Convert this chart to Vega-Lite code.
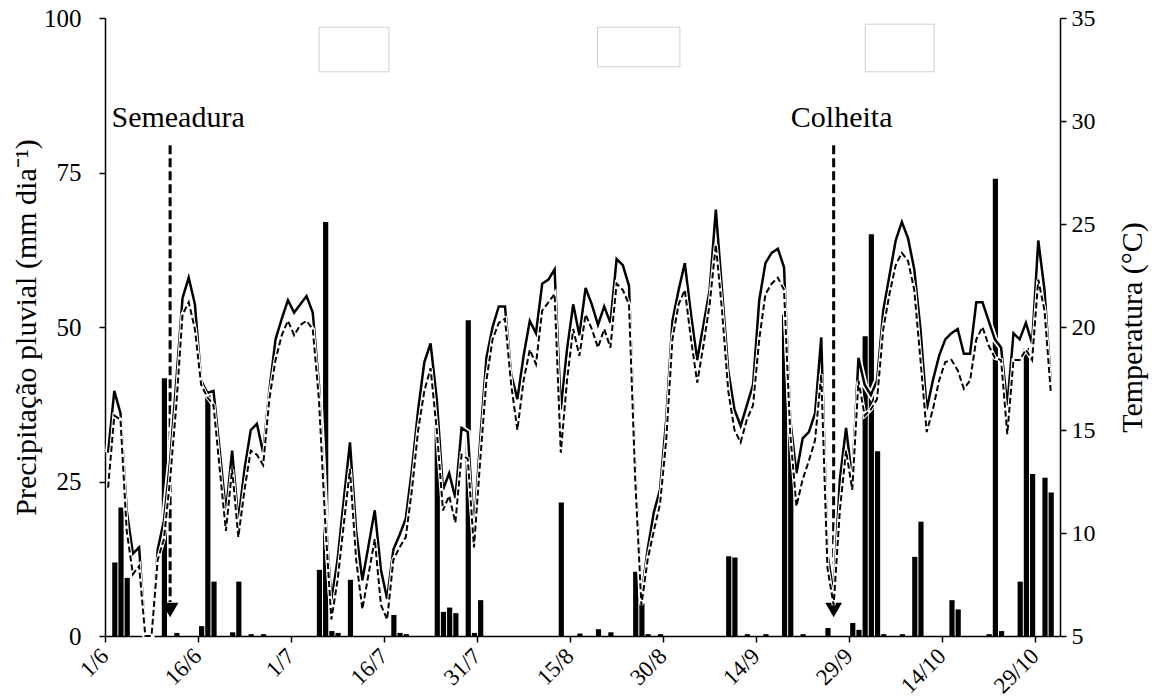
{
  "$schema": "https://vega.github.io/schema/vega-lite/v6.json",
  "width": 955,
  "height": 618,
  "autosize": "none",
  "padding": {"left": 105, "top": 18, "right": 93, "bottom": 64},
  "background": "white",
  "config": {
    "font": "Liberation Serif",
    "view": {"stroke": null},
    "axis": {"grid": false, "domainColor": "black", "domainWidth": 1.5, "tickColor": "black", "tickWidth": 1.5, "labelColor": "black", "titleColor": "black", "labelFont": "Liberation Serif", "titleFont": "Liberation Serif", "titleFontWeight": "normal"}
  },
  "datasets": {
    "caixas": [
      {"x1": "2020-07-05T12:00Z", "x2": "2020-07-16T19:00Z", "y1": 91.3, "y2": 98.5},
      {"x1": "2020-08-19T10:00Z", "x2": "2020-09-01T17:00Z", "y1": 92.1, "y2": 98.5},
      {"x1": "2020-10-01T14:00Z", "x2": "2020-10-12T17:00Z", "y1": 91.3, "y2": 99.0}
    ],
    "rotulos": [
      {"date": "2020-06-01", "rotulo": "1/6"},
      {"date": "2020-06-16", "rotulo": "16/6"},
      {"date": "2020-07-01", "rotulo": "1/7"},
      {"date": "2020-07-16", "rotulo": "16/7"},
      {"date": "2020-07-31", "rotulo": "31/7"},
      {"date": "2020-08-15", "rotulo": "15/8"},
      {"date": "2020-08-30", "rotulo": "30/8"},
      {"date": "2020-09-14", "rotulo": "14/9"},
      {"date": "2020-09-29", "rotulo": "29/9"},
      {"date": "2020-10-14", "rotulo": "14/10"},
      {"date": "2020-10-29", "rotulo": "29/10"}
    ],
    "marcos": [
      {"date": "2020-06-11", "label": "Semeadura", "topo": 79.4, "ponta": 5.5, "cabeca": 4.2, "texto": 83.8},
      {"date": "2020-09-26", "label": "Colheita", "topo": 79.4, "ponta": 5.5, "cabeca": 4.2, "texto": 83.8}
    ],
    "dias": [
      {"date": "2020-06-01", "prec": 0, "ts": 13.9, "td": 12.2},
      {"date": "2020-06-02", "prec": 11.9, "ts": 16.9, "td": 15.7},
      {"date": "2020-06-03", "prec": 20.8, "ts": 15.8, "td": 15.5},
      {"date": "2020-06-04", "prec": 9.4, "ts": 11.1, "td": 10.1},
      {"date": "2020-06-05", "prec": 0, "ts": 9.0, "td": 8.0},
      {"date": "2020-06-06", "prec": 0, "ts": 9.3, "td": 8.4},
      {"date": "2020-06-07", "prec": 0, "ts": 5.0, "td": 5.0},
      {"date": "2020-06-08", "prec": 0, "ts": 5.0, "td": 5.0},
      {"date": "2020-06-09", "prec": 0, "ts": 9.2, "td": 8.7},
      {"date": "2020-06-10", "prec": 41.7, "ts": 10.6, "td": 9.7},
      {"date": "2020-06-11", "prec": 0, "ts": 13.5, "td": 12.6},
      {"date": "2020-06-12", "prec": 0.5, "ts": 17.4, "td": 16.2},
      {"date": "2020-06-13", "prec": 0, "ts": 21.4, "td": 20.6},
      {"date": "2020-06-14", "prec": 0, "ts": 22.4, "td": 21.2},
      {"date": "2020-06-15", "prec": 0, "ts": 21.1, "td": 19.9},
      {"date": "2020-06-16", "prec": 1.6, "ts": 17.4, "td": 17.2},
      {"date": "2020-06-17", "prec": 39.2, "ts": 16.8, "td": 16.6},
      {"date": "2020-06-18", "prec": 8.8, "ts": 16.9, "td": 16.2},
      {"date": "2020-06-19", "prec": 0, "ts": 14.0, "td": 13.1},
      {"date": "2020-06-20", "prec": 0, "ts": 11.0, "td": 10.1},
      {"date": "2020-06-21", "prec": 0.6, "ts": 14.0, "td": 13.1},
      {"date": "2020-06-22", "prec": 8.8, "ts": 10.6, "td": 9.8},
      {"date": "2020-06-23", "prec": 0, "ts": 13.1, "td": 12.1},
      {"date": "2020-06-24", "prec": 0.3, "ts": 15.0, "td": 14.0},
      {"date": "2020-06-25", "prec": 0, "ts": 15.3, "td": 13.8},
      {"date": "2020-06-26", "prec": 0.3, "ts": 13.9, "td": 13.3},
      {"date": "2020-06-27", "prec": 0, "ts": 16.9, "td": 16.5},
      {"date": "2020-06-28", "prec": 0, "ts": 19.4, "td": 18.4},
      {"date": "2020-06-29", "prec": 0, "ts": 20.4, "td": 19.6},
      {"date": "2020-06-30", "prec": 0, "ts": 21.3, "td": 20.3},
      {"date": "2020-07-01", "prec": 0, "ts": 20.7, "td": 19.6},
      {"date": "2020-07-02", "prec": 0, "ts": 21.1, "td": 20.1},
      {"date": "2020-07-03", "prec": 0, "ts": 21.5, "td": 20.3},
      {"date": "2020-07-04", "prec": 0, "ts": 20.7, "td": 19.9},
      {"date": "2020-07-05", "prec": 10.7, "ts": 17.2, "td": 16.5},
      {"date": "2020-07-06", "prec": 67, "ts": 11.1, "td": 10.6},
      {"date": "2020-07-07", "prec": 0.8, "ts": 6.7, "td": 5.8},
      {"date": "2020-07-08", "prec": 0.5, "ts": 8.7, "td": 7.7},
      {"date": "2020-07-09", "prec": 0, "ts": 11.6, "td": 10.4},
      {"date": "2020-07-10", "prec": 9.1, "ts": 14.4, "td": 13.1},
      {"date": "2020-07-11", "prec": 0, "ts": 10.1, "td": 8.7},
      {"date": "2020-07-12", "prec": 0, "ts": 7.7, "td": 6.3},
      {"date": "2020-07-13", "prec": 0, "ts": 9.4, "td": 8.0},
      {"date": "2020-07-14", "prec": 0, "ts": 11.1, "td": 9.7},
      {"date": "2020-07-15", "prec": 0, "ts": 8.2, "td": 6.5},
      {"date": "2020-07-16", "prec": 0, "ts": 6.8, "td": 5.8},
      {"date": "2020-07-17", "prec": 3.4, "ts": 9.2, "td": 8.7},
      {"date": "2020-07-18", "prec": 0.5, "ts": 9.9, "td": 9.3},
      {"date": "2020-07-19", "prec": 0.3, "ts": 10.7, "td": 9.8},
      {"date": "2020-07-20", "prec": 0, "ts": 13.1, "td": 12.1},
      {"date": "2020-07-21", "prec": 0, "ts": 16.0, "td": 15.0},
      {"date": "2020-07-22", "prec": 0, "ts": 18.3, "td": 16.9},
      {"date": "2020-07-23", "prec": 0, "ts": 19.2, "td": 18.0},
      {"date": "2020-07-24", "prec": 34.1, "ts": 16.5, "td": 15.0},
      {"date": "2020-07-25", "prec": 3.9, "ts": 12.1, "td": 11.1},
      {"date": "2020-07-26", "prec": 4.6, "ts": 12.9, "td": 11.8},
      {"date": "2020-07-27", "prec": 3.7, "ts": 11.7, "td": 10.5},
      {"date": "2020-07-28", "prec": 0, "ts": 15.1, "td": 13.8},
      {"date": "2020-07-29", "prec": 51.1, "ts": 14.9, "td": 13.6},
      {"date": "2020-07-30", "prec": 0.5, "ts": 10.1, "td": 9.3},
      {"date": "2020-07-31", "prec": 5.8, "ts": 14.5, "td": 13.5},
      {"date": "2020-08-01", "prec": 0, "ts": 18.5, "td": 17.4},
      {"date": "2020-08-02", "prec": 0, "ts": 20.0, "td": 19.4},
      {"date": "2020-08-03", "prec": 0, "ts": 21.0, "td": 20.2},
      {"date": "2020-08-04", "prec": 0, "ts": 21.0, "td": 20.4},
      {"date": "2020-08-05", "prec": 0, "ts": 17.7, "td": 17.2},
      {"date": "2020-08-06", "prec": 0, "ts": 16.5, "td": 15.0},
      {"date": "2020-08-07", "prec": 0, "ts": 18.6, "td": 17.4},
      {"date": "2020-08-08", "prec": 0, "ts": 20.3, "td": 18.9},
      {"date": "2020-08-09", "prec": 0, "ts": 19.7, "td": 18.2},
      {"date": "2020-08-10", "prec": 0, "ts": 22.1, "td": 20.8},
      {"date": "2020-08-11", "prec": 0, "ts": 22.3, "td": 21.2},
      {"date": "2020-08-12", "prec": 0, "ts": 22.8, "td": 21.6},
      {"date": "2020-08-13", "prec": 21.6, "ts": 16.0, "td": 13.9},
      {"date": "2020-08-14", "prec": 0, "ts": 18.9, "td": 17.4},
      {"date": "2020-08-15", "prec": 0, "ts": 21.1, "td": 19.9},
      {"date": "2020-08-16", "prec": 0.4, "ts": 19.6, "td": 18.6},
      {"date": "2020-08-17", "prec": 0, "ts": 21.9, "td": 20.6},
      {"date": "2020-08-18", "prec": 0, "ts": 21.1, "td": 19.9},
      {"date": "2020-08-19", "prec": 1.1, "ts": 20.1, "td": 19.0},
      {"date": "2020-08-20", "prec": 0, "ts": 21.0, "td": 19.9},
      {"date": "2020-08-21", "prec": 0.6, "ts": 20.2, "td": 19.0},
      {"date": "2020-08-22", "prec": 0, "ts": 23.3, "td": 22.1},
      {"date": "2020-08-23", "prec": 0, "ts": 23.0, "td": 21.8},
      {"date": "2020-08-24", "prec": 0, "ts": 22.0, "td": 21.1},
      {"date": "2020-08-25", "prec": 10.4, "ts": 13.1, "td": 12.6},
      {"date": "2020-08-26", "prec": 5.3, "ts": 6.9, "td": 6.5},
      {"date": "2020-08-27", "prec": 0.3, "ts": 9.2, "td": 8.7},
      {"date": "2020-08-28", "prec": 0, "ts": 11.0, "td": 10.1},
      {"date": "2020-08-29", "prec": 0.3, "ts": 12.1, "td": 11.4},
      {"date": "2020-08-30", "prec": 0, "ts": 15.5, "td": 14.5},
      {"date": "2020-08-31", "prec": 0, "ts": 20.3, "td": 19.4},
      {"date": "2020-09-01", "prec": 0, "ts": 21.8, "td": 21.1},
      {"date": "2020-09-02", "prec": 0, "ts": 23.1, "td": 21.8},
      {"date": "2020-09-03", "prec": 0, "ts": 20.6, "td": 19.4},
      {"date": "2020-09-04", "prec": 0, "ts": 18.4, "td": 17.3},
      {"date": "2020-09-05", "prec": 0, "ts": 20.1, "td": 19.1},
      {"date": "2020-09-06", "prec": 0, "ts": 21.8, "td": 21.1},
      {"date": "2020-09-07", "prec": 0, "ts": 25.7, "td": 24.0},
      {"date": "2020-09-08", "prec": 0, "ts": 21.8, "td": 20.8},
      {"date": "2020-09-09", "prec": 12.9, "ts": 17.9, "td": 16.9},
      {"date": "2020-09-10", "prec": 12.7, "ts": 16.0, "td": 15.0},
      {"date": "2020-09-11", "prec": 0, "ts": 15.2, "td": 14.4},
      {"date": "2020-09-12", "prec": 0.3, "ts": 16.2, "td": 15.5},
      {"date": "2020-09-13", "prec": 0, "ts": 17.2, "td": 16.2},
      {"date": "2020-09-14", "prec": 0, "ts": 21.3, "td": 19.4},
      {"date": "2020-09-15", "prec": 0.3, "ts": 23.1, "td": 21.6},
      {"date": "2020-09-16", "prec": 0, "ts": 23.6, "td": 22.1},
      {"date": "2020-09-17", "prec": 0, "ts": 23.8, "td": 22.4},
      {"date": "2020-09-18", "prec": 52, "ts": 22.9, "td": 21.8},
      {"date": "2020-09-19", "prec": 34.5, "ts": 15.5, "td": 14.8},
      {"date": "2020-09-20", "prec": 0, "ts": 12.9, "td": 11.3},
      {"date": "2020-09-21", "prec": 0.3, "ts": 14.6, "td": 12.6},
      {"date": "2020-09-22", "prec": 0, "ts": 14.9, "td": 13.5},
      {"date": "2020-09-23", "prec": 0, "ts": 15.8, "td": 14.5},
      {"date": "2020-09-24", "prec": 0, "ts": 19.5, "td": 17.7},
      {"date": "2020-09-25", "prec": 1.3, "ts": 9.0, "td": 8.3},
      {"date": "2020-09-26", "prec": 0, "ts": 7.0, "td": 6.5},
      {"date": "2020-09-27", "prec": 0, "ts": 12.6, "td": 11.1},
      {"date": "2020-09-28", "prec": 0, "ts": 15.1, "td": 14.0},
      {"date": "2020-09-29", "prec": 2.1, "ts": 12.6, "td": 12.1},
      {"date": "2020-09-30", "prec": 1.0, "ts": 18.5, "td": 17.4},
      {"date": "2020-10-01", "prec": 48.5, "ts": 17.2, "td": 15.7},
      {"date": "2020-10-02", "prec": 65, "ts": 16.7, "td": 16.0},
      {"date": "2020-10-03", "prec": 29.9, "ts": 17.4, "td": 16.5},
      {"date": "2020-10-04", "prec": 0.3, "ts": 20.8, "td": 19.9},
      {"date": "2020-10-05", "prec": 0, "ts": 22.5, "td": 21.6},
      {"date": "2020-10-06", "prec": 0, "ts": 24.2, "td": 23.0},
      {"date": "2020-10-07", "prec": 0.3, "ts": 25.1, "td": 23.6},
      {"date": "2020-10-08", "prec": 0, "ts": 24.3, "td": 23.2},
      {"date": "2020-10-09", "prec": 12.8, "ts": 22.8, "td": 21.8},
      {"date": "2020-10-10", "prec": 18.5, "ts": 19.9, "td": 18.4},
      {"date": "2020-10-11", "prec": 0, "ts": 16.0, "td": 14.9},
      {"date": "2020-10-12", "prec": 0, "ts": 17.4, "td": 16.0},
      {"date": "2020-10-13", "prec": 0, "ts": 18.6, "td": 17.4},
      {"date": "2020-10-14", "prec": 0, "ts": 19.4, "td": 18.3},
      {"date": "2020-10-15", "prec": 5.8, "ts": 19.7, "td": 18.4},
      {"date": "2020-10-16", "prec": 4.3, "ts": 19.9, "td": 17.9},
      {"date": "2020-10-17", "prec": 0, "ts": 18.7, "td": 17.0},
      {"date": "2020-10-18", "prec": 0, "ts": 18.7, "td": 17.4},
      {"date": "2020-10-19", "prec": 0, "ts": 21.2, "td": 19.4},
      {"date": "2020-10-20", "prec": 0, "ts": 21.2, "td": 20.0},
      {"date": "2020-10-21", "prec": 0.3, "ts": 20.3, "td": 19.1},
      {"date": "2020-10-22", "prec": 74, "ts": 19.4, "td": 18.5},
      {"date": "2020-10-23", "prec": 0.8, "ts": 19.0, "td": 18.4},
      {"date": "2020-10-24", "prec": 0, "ts": 16.2, "td": 14.8},
      {"date": "2020-10-25", "prec": 0, "ts": 19.7, "td": 18.4},
      {"date": "2020-10-26", "prec": 8.8, "ts": 19.4, "td": 18.4},
      {"date": "2020-10-27", "prec": 46.6, "ts": 20.2, "td": 18.9},
      {"date": "2020-10-28", "prec": 26.2, "ts": 19.2, "td": 18.4},
      {"date": "2020-10-29", "prec": 0, "ts": 24.2, "td": 22.3},
      {"date": "2020-10-30", "prec": 25.6, "ts": 21.8, "td": 20.8},
      {"date": "2020-10-31", "prec": 23.2, "ts": 17.3, "td": 16.9}
    ]
  },
  "layer": [
    {
      "layer": [
        {
          "data": {"name": "caixas"},
          "mark": {"type": "rect", "fill": "white", "stroke": "#cfcfcf", "strokeWidth": 1},
          "encoding": {
            "x": {"field": "x1", "type": "temporal"},
            "x2": {"field": "x2"},
            "y": {"field": "y1", "type": "quantitative"},
            "y2": {"field": "y2"}
          }
        },
        {
          "data": {"name": "dias"},
          "mark": {"type": "bar", "color": "black"},
          "encoding": {
            "x": {
              "field": "date", "type": "temporal", "timeUnit": "utcyearmonthdate",
              "scale": {"type": "utc", "domain": [{"year": 2020, "month": 6, "date": 1, "utc": true}, {"year": 2020, "month": 11, "date": 2, "utc": true}]},
              "axis": {
                "title": null,
                "values": [
                  {"year": 2020, "month": 6, "date": 1, "utc": true},
                  {"year": 2020, "month": 6, "date": 16, "utc": true},
                  {"year": 2020, "month": 7, "date": 1, "utc": true},
                  {"year": 2020, "month": 7, "date": 16, "utc": true},
                  {"year": 2020, "month": 7, "date": 31, "utc": true},
                  {"year": 2020, "month": 8, "date": 15, "utc": true},
                  {"year": 2020, "month": 8, "date": 30, "utc": true},
                  {"year": 2020, "month": 9, "date": 14, "utc": true},
                  {"year": 2020, "month": 9, "date": 29, "utc": true},
                  {"year": 2020, "month": 10, "date": 14, "utc": true},
                  {"year": 2020, "month": 10, "date": 29, "utc": true}
                ],
                "labels": false, "tickSize": 6
              }
            },
            "y": {
              "field": "prec", "type": "quantitative",
              "scale": {"domain": [0, 100], "nice": false},
              "axis": {
                "orient": "left", "title": "Precipitação pluvial (mm dia⁻¹)", "values": [0, 25, 50, 75, 100],
                "labelFontSize": 25, "titleFontSize": 30, "tickSize": 6, "labelPadding": 18, "titlePadding": 2
              }
            }
          }
        },
        {
          "data": {"name": "rotulos"},
          "mark": {"type": "text", "angle": 315, "align": "right", "baseline": "middle", "fontSize": 23, "font": "Liberation Serif", "color": "black"},
          "encoding": {
            "x": {"field": "date", "type": "temporal"},
            "y": {"datum": -2.7, "type": "quantitative"},
            "text": {"field": "rotulo"}
          }
        },
        {
          "data": {"name": "marcos"},
          "mark": {"type": "rule", "strokeDash": [9, 4], "strokeWidth": 3, "color": "black"},
          "encoding": {
            "x": {"field": "date", "type": "temporal", "timeUnit": "utcyearmonthdate", "bandPosition": 0.5},
            "y": {"field": "topo", "type": "quantitative"},
            "y2": {"field": "ponta"}
          }
        },
        {
          "data": {"name": "marcos"},
          "mark": {"type": "point", "shape": "triangle-down", "filled": true, "size": 280, "color": "black", "opacity": 1},
          "encoding": {
            "x": {"field": "date", "type": "temporal", "timeUnit": "utcyearmonthdate", "bandPosition": 0.5},
            "y": {"field": "cabeca", "type": "quantitative"}
          }
        },
        {
          "data": {"name": "marcos"},
          "mark": {"type": "text", "fontSize": 30, "font": "Liberation Serif", "dx": 8, "baseline": "middle", "color": "black"},
          "encoding": {
            "x": {"field": "date", "type": "temporal", "timeUnit": "utcyearmonthdate", "bandPosition": 0.5},
            "y": {"field": "texto", "type": "quantitative"},
            "text": {"field": "label"}
          }
        }
      ]
    },
    {
      "data": {"name": "dias"},
      "encoding": {
        "x": {"field": "date", "type": "temporal", "timeUnit": "utcyearmonthdate", "bandPosition": 0.5}
      },
      "layer": [
        {
          "mark": {"type": "line", "color": "white", "strokeWidth": 6},
          "encoding": {
            "y": {
              "field": "ts", "type": "quantitative",
              "scale": {"domain": [5, 35], "nice": false},
              "axis": {
                "orient": "right", "title": "Temperatura (°C)", "values": [5, 10, 15, 20, 25, 30, 35],
                "labelFontSize": 24, "titleFontSize": 30, "tickSize": 6, "labelPadding": 5, "titlePadding": 52, "titleAngle": 270
              }
            }
          }
        },
        {
          "mark": {"type": "line", "color": "black", "strokeWidth": 2.5},
          "encoding": {"y": {"field": "ts", "type": "quantitative"}}
        },
        {
          "mark": {"type": "line", "color": "white", "strokeWidth": 4},
          "encoding": {"y": {"field": "td", "type": "quantitative"}}
        },
        {
          "mark": {"type": "line", "color": "black", "strokeWidth": 2, "strokeDash": [6, 3]},
          "encoding": {"y": {"field": "td", "type": "quantitative"}}
        }
      ]
    }
  ],
  "resolve": {"scale": {"y": "independent"}, "axis": {"y": "independent"}}
}
